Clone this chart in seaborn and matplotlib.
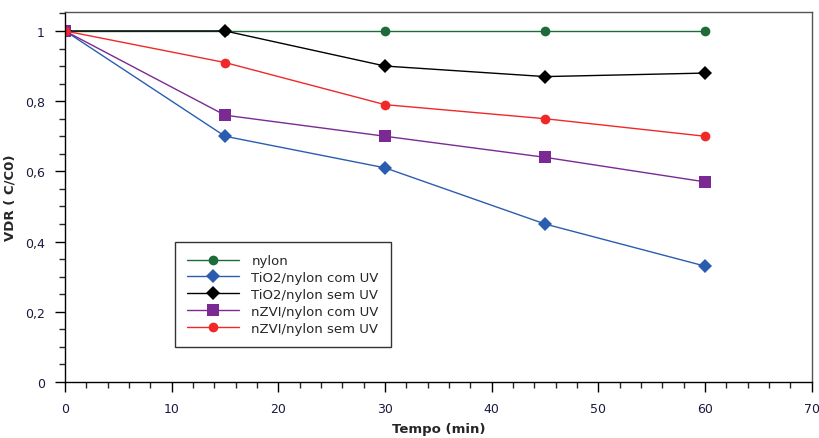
import numpy as np
import pandas as pd
import matplotlib
matplotlib.use("Agg")
import matplotlib.pyplot as plt
from matplotlib.ticker import MultipleLocator, FuncFormatter
import seaborn as sns

# data
tempo = [0, 15, 30, 45, 60]
nylon = [1.0, 1.0, 1.0, 1.0, 1.0]
tio2_com_uv = [1.0, 0.70, 0.61, 0.45, 0.33]
tio2_sem_uv = [1.0, 1.0, 0.90, 0.87, 0.88]
nzvi_com_uv = [1.0, 0.76, 0.70, 0.64, 0.57]
nzvi_sem_uv = [1.0, 0.91, 0.79, 0.75, 0.70]

series_names = ["nylon", "TiO2/nylon com UV", "TiO2/nylon sem UV",
                "nZVI/nylon com UV", "nZVI/nylon sem UV"]
series_values = [nylon, tio2_com_uv, tio2_sem_uv, nzvi_com_uv, nzvi_sem_uv]

rows = []
for name, vals in zip(series_names, series_values):
    for t, v in zip(tempo, vals):
        rows.append({"tempo": t, "vdr": v, "serie": name})
df = pd.DataFrame(rows)

colors = {
    "nylon": "#1e6b3a",
    "TiO2/nylon com UV": "#2a5db0",
    "TiO2/nylon sem UV": "#000000",
    "nZVI/nylon com UV": "#7a2a92",
    "nZVI/nylon sem UV": "#f02828",
}
markers = {
    "nylon": "o",
    "TiO2/nylon com UV": "D",
    "TiO2/nylon sem UV": "D",
    "nZVI/nylon com UV": "s",
    "nZVI/nylon sem UV": "o",
}
msizes = {
    "nylon": 7,
    "TiO2/nylon com UV": 7,
    "TiO2/nylon sem UV": 7,
    "nZVI/nylon com UV": 8.5,
    "nZVI/nylon sem UV": 7,
}

sns.set_style("ticks")
plt.rcParams["font.family"] = ["DejaVu Sans"]

fig = plt.figure(figsize=(8.2, 4.39), dpi=100)
ax = fig.add_axes([0.0793, 0.1276, 0.9107, 0.8428])

for name in series_names:
    sub = df[df["serie"] == name]
    sns.lineplot(data=sub, x="tempo", y="vdr", ax=ax, color=colors[name],
                 marker=markers[name], markersize=msizes[name],
                 markeredgewidth=0, linewidth=1.0, label=name,
                 estimator=None, sort=False)

ax.set_xlim(0, 70)
ax.set_ylim(0, 1.054)
ax.xaxis.set_major_locator(MultipleLocator(10))
ax.xaxis.set_minor_locator(MultipleLocator(2))
ax.yaxis.set_major_locator(MultipleLocator(0.2))
ax.yaxis.set_minor_locator(MultipleLocator(0.05))
ax.yaxis.set_major_formatter(FuncFormatter(
    lambda v, p: "0" if abs(v) < 1e-9 else ("1" if abs(v - 1) < 1e-9 else f"{v:.1f}".replace(".", ","))))

ax.tick_params(axis="both", which="major", direction="out", length=7.5, width=1,
               labelsize=9, colors="black")
ax.tick_params(axis="both", which="minor", direction="out", length=4.3, width=1)
ax.tick_params(axis="x", pad=7)
ax.tick_params(axis="y", pad=7)
for lab in ax.get_xticklabels() + ax.get_yticklabels():
    lab.set_color("#1a1a40")

for side in ["left", "bottom"]:
    ax.spines[side].set_color("black")
    ax.spines[side].set_linewidth(1.0)
for side in ["top", "right"]:
    ax.spines[side].set_visible(True)
    ax.spines[side].set_color("#555555")
    ax.spines[side].set_linewidth(1.0)

ax.set_xlabel("Tempo (min)", fontsize=9.5, fontweight="bold", labelpad=5)
ax.set_ylabel("VDR ( C/C0)", fontsize=9.5, fontweight="bold", labelpad=6)

leg = ax.legend(loc="lower left", bbox_to_anchor=(0.147, 0.095), fontsize=9.5,
                frameon=True, fancybox=False, edgecolor="black",
                handlelength=4.0, borderpad=0.9, labelspacing=0.3,
                handletextpad=0.9, borderaxespad=0)
leg.get_frame().set_linewidth(1.0)

fig.savefig("out.png", dpi=100)
